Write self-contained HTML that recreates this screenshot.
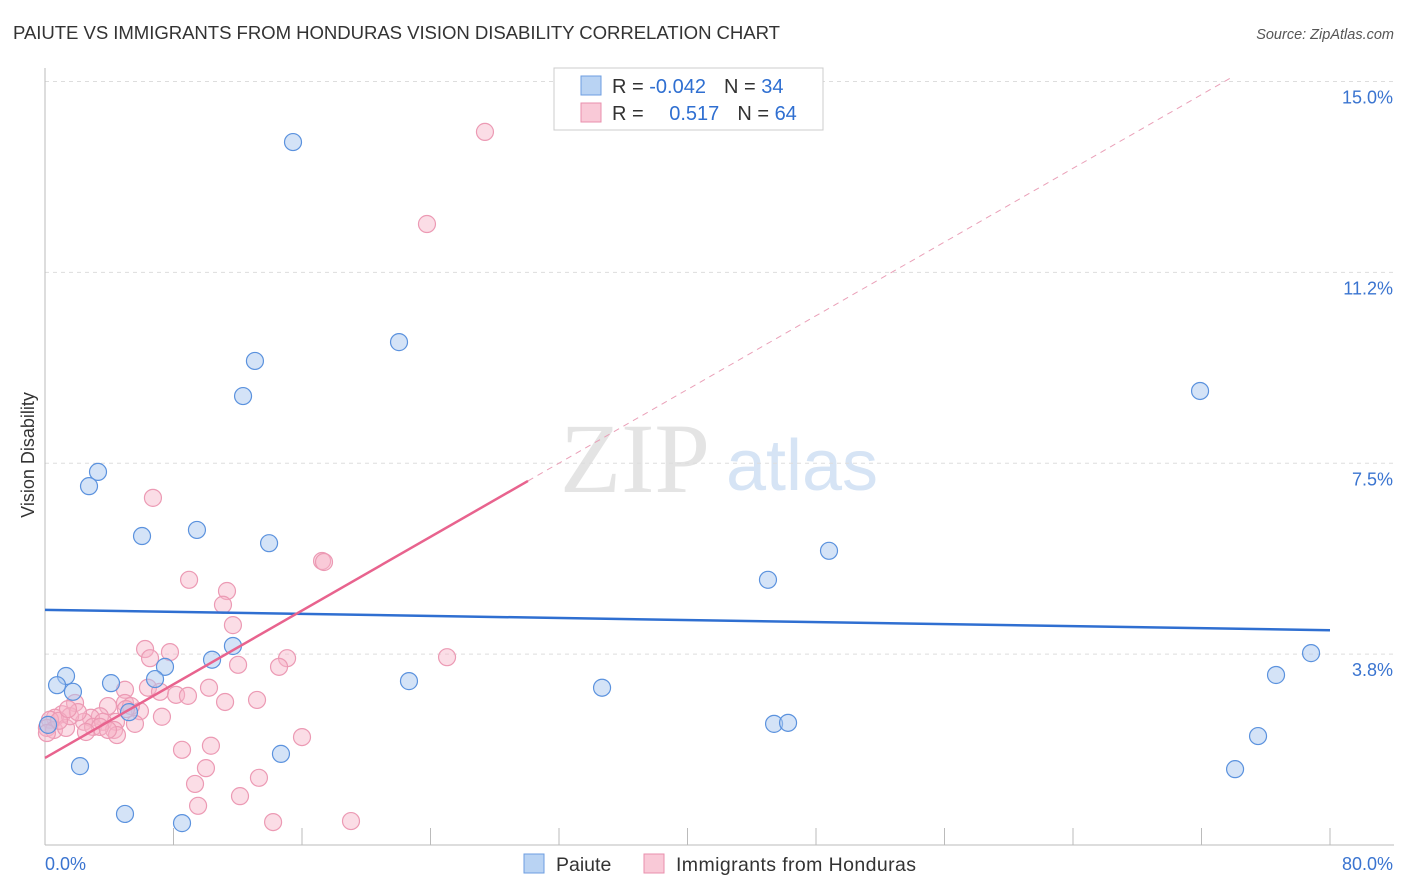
<!DOCTYPE html>
<html><head><meta charset="utf-8">
<style>
body{margin:0;background:#fff;font-family:"Liberation Sans",sans-serif;}
svg{display:block}
</style></head>
<body>
<svg id="chart" width="1406" height="892" xmlns="http://www.w3.org/2000/svg" font-family="Liberation Sans, sans-serif">
<text x="13" y="39" font-size="18.6" fill="#333" textLength="767">PAIUTE VS IMMIGRANTS FROM HONDURAS VISION DISABILITY CORRELATION CHART</text>
<text x="1394" y="39" font-size="14.5" fill="#555" font-style="italic" text-anchor="end">Source: ZipAtlas.com</text>
<text transform="translate(34,455) rotate(-90)" font-size="18" fill="#333" text-anchor="middle">Vision Disability</text>
<g>
<text x="635" y="492" font-size="100" fill="#e4e4e4" font-family="Liberation Serif, serif" text-anchor="middle">ZIP</text>
<text x="802" y="490" font-size="72" fill="#d6e4f5" text-anchor="middle">atlas</text>
</g>
<g id="grid"></g>
<g id="axes"></g>
<g id="pinkPts"></g>
<g id="bluePts"></g>
<g id="lines"></g>
<g>
<rect x="554" y="68" width="269" height="62" fill="#fff" stroke="#ccc"/>
<rect x="581" y="76" width="20" height="19" fill="#b9d3f3" stroke="#6d9ee0"/>
<rect x="581" y="103" width="20" height="19" fill="#f9c9d7" stroke="#e98fac"/>
<text x="612" y="93" font-size="20" fill="#333">R = <tspan fill="#2f6fd1">-0.042</tspan><tspan dx="18">N = </tspan><tspan fill="#2f6fd1">34</tspan></text>
<text x="612" y="120" font-size="20" fill="#333">R = <tspan dx="20" fill="#2f6fd1">0.517</tspan><tspan dx="18">N = </tspan><tspan fill="#2f6fd1">64</tspan></text>
</g>
<g>
<rect x="524" y="854" width="20" height="19" fill="#b9d3f3" stroke="#6d9ee0"/>
<text x="556" y="871" font-size="19.5" fill="#333">Paiute</text>
<rect x="644" y="854" width="20" height="19" fill="#f9c9d7" stroke="#e98fac"/>
<text x="676" y="871" font-size="19.5" fill="#333" textLength="240">Immigrants from Honduras</text>
</g>
</svg>
<script>
const xTicks=[0,8,16,24,32,40,48,56,64,72,80];
const yTickVals=[3.75,7.5,11.25,15];
const yTickLabels=["3.8%","7.5%","11.2%","15.0%"];
const xEndLabels=["0.0%","80.0%"];
const paiuteX=[15.44,22.04,13.07,12.33,71.91,3.30,2.74,6.04,9.46,13.95,48.81,45.01,11.70,10.40,7.47,6.85,1.31,0.75,1.74,4.11,22.66,34.68,78.82,76.64,5.23,0.19,45.39,46.26,75.52,74.09,2.18,14.69,4.98,8.53];
const paiuteY=[13.81,9.88,9.51,8.82,8.92,7.33,7.05,6.07,6.19,5.93,5.78,5.21,3.91,3.64,3.50,3.26,3.32,3.14,3.01,3.18,3.22,3.09,3.77,3.34,2.61,2.36,2.38,2.40,2.14,1.49,1.55,1.79,0.61,0.43];
const hondX=[27.39,23.78,6.72,17.25,17.37,8.97,11.33,11.08,11.70,6.23,7.78,6.54,15.07,14.57,12.02,25.03,4.98,6.41,7.16,8.16,8.90,10.21,11.21,13.20,4.98,3.92,1.87,3.42,2.86,1.06,0.62,0.31,0.12,0.56,1.31,2.43,2.99,4.42,5.91,7.28,5.60,3.61,4.30,4.48,1.56,2.05,5.35,0.87,8.53,10.33,16.00,10.02,9.34,13.32,9.53,12.14,14.20,19.05,5.04,3.42,0.12,2.55,1.43,3.92];
const hondY=[14.01,12.20,6.82,5.58,5.56,5.21,4.99,4.72,4.32,3.85,3.79,3.67,3.67,3.50,3.54,3.69,3.05,3.09,3.01,2.95,2.93,3.09,2.81,2.85,2.79,2.73,2.79,2.53,2.50,2.57,2.50,2.46,2.30,2.26,2.30,2.42,2.32,2.42,2.63,2.52,2.38,2.42,2.26,2.16,2.53,2.61,2.73,2.44,1.87,1.95,2.12,1.51,1.20,1.32,0.77,0.96,0.45,0.47,2.67,2.32,2.20,2.22,2.67,2.26];
const paiuteFit=[4.62,4.22];      // y at x=0, y at x=80
const hondFit=[1.71,0.181];       // intercept, slope
const hondSolidEnd=30.07, hondDashEnd=73.8;

const X0=45,X1=1330,Y0=845,PXY=50.9;
const sx=v=>X0+(v/80)*(X1-X0);
const sy=v=>Y0-v*PXY;
const NS="http://www.w3.org/2000/svg";
function mk(tag,parent,attrs){const e=document.createElementNS(NS,tag);for(const k in attrs)e.setAttribute(k,attrs[k]);document.getElementById(parent).appendChild(e);return e;}

yTickVals.forEach((v,i)=>{
  const g=mk('line','grid',{x1:X0,x2:1394,y1:sy(v),y2:sy(v),stroke:'#ddd','stroke-dasharray':'4,4'});
  
  
  const t=mk('text','grid',{x:1393,y:sy(v)+22,'font-size':18,fill:'#3a74d0','text-anchor':'end'});
  t.textContent=yTickLabels[i];
  
  
});
const ax=mk('line','axes',{x1:X0,x2:X0,y1:68,y2:Y0,stroke:'#bbb'});


const bx=mk('line','axes',{x1:X0,x2:1394,y1:Y0,y2:Y0,stroke:'#bbb'});


xTicks.forEach(v=>{
  const t=mk('line','axes',{x1:sx(v),x2:sx(v),y1:828,y2:Y0,stroke:'#bbb'});
  
  
});
const l0=mk('text','axes',{x:45,y:870,'font-size':18,fill:'#3a74d0'});
l0.textContent=xEndLabels[0];


const l1=mk('text','axes',{x:1393,y:870,'font-size':18,fill:'#3a74d0','text-anchor':'end'});
l1.textContent=xEndLabels[1];



hondX.forEach((v,i)=>{
  const c=mk('circle','pinkPts',{cx:sx(v),cy:sy(hondY[i]),r:8.5,fill:'rgba(246,180,200,0.45)',stroke:'#ec9ab4','stroke-width':1.2});
  
  
});
paiuteX.forEach((v,i)=>{
  const c=mk('circle','bluePts',{cx:sx(v),cy:sy(paiuteY[i]),r:8.5,fill:'rgba(170,200,240,0.5)',stroke:'#5b92de','stroke-width':1.2});
  
  
});
const bl=mk('line','lines',{x1:sx(0),y1:sy(paiuteFit[0]),x2:sx(80),y2:sy(paiuteFit[1]),stroke:'#2f6fd1','stroke-width':2.5});


const pl=mk('line','lines',{x1:sx(0),y1:sy(hondFit[0]),x2:sx(hondSolidEnd),y2:sy(hondFit[0]+hondFit[1]*hondSolidEnd),stroke:'#e8638e','stroke-width':2.5});


const pd=mk('line','lines',{x1:sx(hondSolidEnd),y1:sy(hondFit[0]+hondFit[1]*hondSolidEnd),x2:sx(hondDashEnd),y2:sy(hondFit[0]+hondFit[1]*hondDashEnd),stroke:'#eaa0b8','stroke-width':1,'stroke-dasharray':'6,5'});


</script>
</body></html>
